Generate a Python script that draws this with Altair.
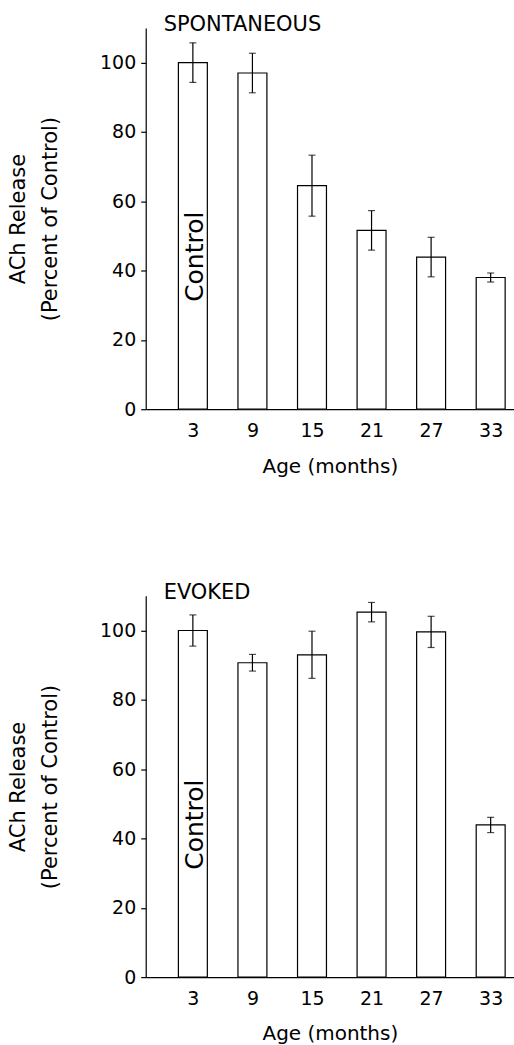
import altair as alt
import pandas as pd

ages = [3, 9, 15, 21, 27, 33]
spont_mean = [100.0, 97.0, 64.5, 51.6, 43.9, 38.0]
spont_err = [5.7, 5.7, 8.8, 5.7, 5.7, 1.3]
evoked_mean = [100.0, 90.7, 93.0, 105.3, 99.6, 43.9]
evoked_err = [4.5, 2.4, 6.8, 2.8, 4.5, 2.2]
y_ticks = [0, 20, 40, 60, 80, 100]
control_label = {"age": 3, "value": 44, "text": "Control"}

FONT = "DejaVu Sans"


def panel(title, means, errs):
    df = pd.DataFrame({
        "age": ages,
        "mean": means,
        "lo": [m - e for m, e in zip(means, errs)],
        "hi": [m + e for m, e in zip(means, errs)],
    })
    xscale = alt.Scale(domain=[-1.75, 35.35], nice=False, zero=False,
                       padding=0)
    yscale = alt.Scale(domain=[0, 110], nice=False, padding=0)
    x = alt.X("age:Q", scale=xscale,
              axis=alt.Axis(values=ages, ticks=False, grid=False,
                            title="Age (months)", labelFontSize=19,
                            labelPadding=12, titleFontSize=20,
                            titlePadding=16, domainColor="black",
                            labelColor="black", titleColor="black",
                            titleFontWeight="normal", domainWidth=1.2))
    y = alt.Y("mean:Q", scale=yscale,
              axis=alt.Axis(values=y_ticks, grid=False,
                            title=["ACh Release", "(Percent of Control)"],
                            labelFontSize=19, labelPadding=5, tickSize=5,
                            tickColor="black", tickWidth=1.2,
                            domainColor="black", domainWidth=1.2,
                            labelColor="black", titleColor="black",
                            titleFontSize=21, titleFontWeight="normal",
                            titleLineHeight=32, titlePadding=39))
    bars = alt.Chart(df).mark_bar(size=29, fill="white", stroke="black",
                                  strokeWidth=1.2).encode(x=x, y=y)
    rule = alt.Chart(df).mark_rule(color="black", strokeWidth=1.2).encode(
        x="age:Q", y="lo:Q", y2="hi:Q")
    cap_lo = alt.Chart(df).mark_tick(orient="horizontal", size=7,
                                     thickness=1.2, color="black").encode(
        x="age:Q", y="lo:Q")
    cap_hi = alt.Chart(df).mark_tick(orient="horizontal", size=7,
                                     thickness=1.2, color="black").encode(
        x="age:Q", y="hi:Q")
    lab_df = pd.DataFrame([control_label])
    label = alt.Chart(lab_df).mark_text(angle=270, fontSize=25, dy=2,
                                        color="black", font=FONT).encode(
        x="age:Q", y="value:Q", text="text:N")
    return alt.layer(bars, rule, cap_lo, cap_hi, label).properties(
        width=369, height=382,
        title=alt.TitleParams(title, anchor="start", frame="group", dx=18,
                              fontSize=21, fontWeight="normal", offset=-24,
                              baseline="alphabetic", color="black"))


top = panel("SPONTANEOUS", spont_mean, spont_err)
bottom = panel("EVOKED", evoked_mean, evoked_err)

chart = alt.vconcat(top, bottom, spacing=106).properties(
    padding={"left": 7, "top": 13, "right": 0, "bottom": 0}
).configure(font=FONT).configure_view(stroke=None)

chart.save("out.html", embed_options={"renderer": "svg", "actions": False})
